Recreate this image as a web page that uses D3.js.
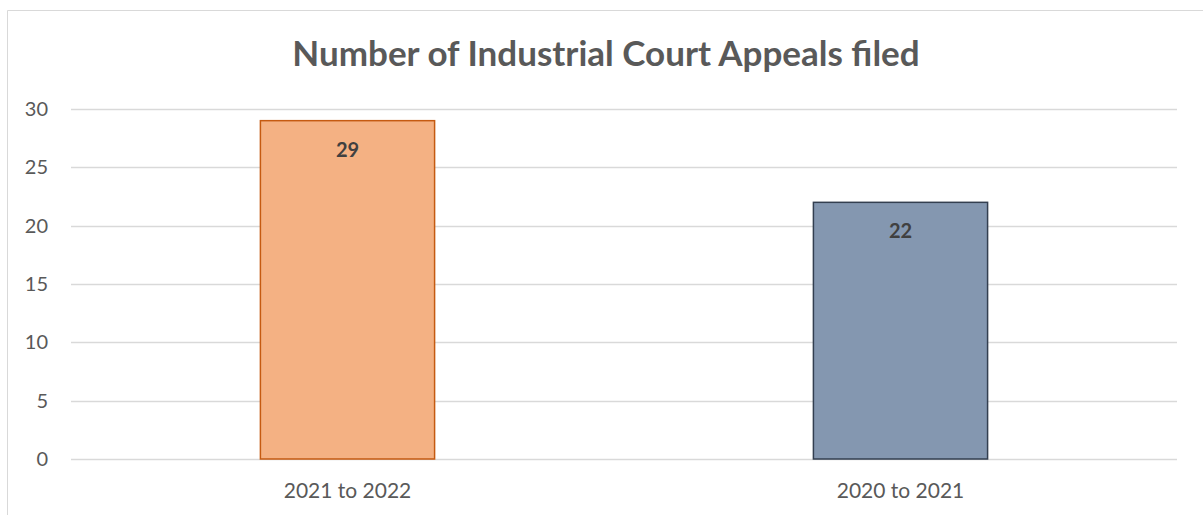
<!DOCTYPE html>
<html>
<head>
<meta charset="utf-8">
<script src="https://cdn.jsdelivr.net/npm/d3@7"></script>
<style>
  body { margin: 0; background: #fff; }
  svg { display: block; font-family: Lato, "Open Sans", sans-serif; }
</style>
</head>
<body>
<svg id="chart" width="1203" height="515"></svg>
<script>
// chart data
var title = "Number of Industrial Court Appeals filed";
var categories = ["2021 to 2022", "2020 to 2021"];
var values = [29, 22];
var fills = ["#F4B183", "#8497B0"];
var strokes = ["#C55A11", "#333F50"];
var yTicks = [0, 5, 10, 15, 20, 25, 30];

var svg = d3.select("#chart");
var margin = {left: 71, right: 26, top: 109, bottom: 56};
var width = 1203 - margin.left - margin.right;
var height = 515 - margin.top - margin.bottom;

// outer chart border (left + top only visible)
svg.append("path")
    .attr("d", "M7.5,515 L7.5,10.5 L1203,10.5")
    .attr("fill", "none")
    .attr("stroke", "#d9d9d9")
    .attr("stroke-width", 1);

svg.append("text")
    .attr("x", 606)
    .attr("y", 66)
    .attr("text-anchor", "middle")
    .attr("font-size", "35px")
    .attr("font-weight", "bold")
    .attr("fill", "#595959")
    .text(title);

var g = svg.append("g").attr("transform", "translate(" + margin.left + "," + margin.top + ")");

var x = d3.scaleBand()
    .domain(categories)
    .range([0, width])
    .paddingInner(0.685)
    .paddingOuter(0.3425);

var y = d3.scaleLinear()
    .domain([0, 30])
    .range([height, 0]);

// gridlines
g.selectAll("line.grid")
    .data(yTicks)
    .enter().append("line")
    .attr("class", "grid")
    .attr("x1", 0)
    .attr("x2", width)
    .attr("y1", function (d) { return Math.round(y(d)) + 0.5; })
    .attr("y2", function (d) { return Math.round(y(d)) + 0.5; })
    .attr("stroke", "#d9d9d9")
    .attr("stroke-width", 1.5);

// y axis labels
var yAxis = d3.axisLeft(y).tickValues(yTicks).tickSize(0).tickPadding(23);
g.append("g").call(yAxis)
    .call(function (a) { a.select(".domain").remove(); })
    .selectAll("text")
    .attr("font-size", "20px")
    .attr("font-family", "Lato, 'Open Sans', sans-serif")
    .attr("fill", "#595959");

// x axis labels
var xAxis = d3.axisBottom(x).tickSize(0).tickPadding(24);
g.append("g").attr("transform", "translate(0," + height + ")").call(xAxis)
    .call(function (a) { a.select(".domain").remove(); })
    .selectAll("text")
    .attr("font-size", "21px")
    .attr("font-family", "Lato, 'Open Sans', sans-serif")
    .attr("fill", "#595959");

// bars
g.selectAll("rect.bar")
    .data(values)
    .enter().append("rect")
    .attr("class", "bar")
    .attr("x", function (d, i) { return x(categories[i]); })
    .attr("y", function (d) { return y(d); })
    .attr("width", x.bandwidth())
    .attr("height", function (d) { return height - y(d); })
    .attr("fill", function (d, i) { return fills[i]; })
    .attr("stroke", function (d, i) { return strokes[i]; })
    .attr("stroke-width", 1.5);

// value labels
g.selectAll("text.val")
    .data(values)
    .enter().append("text")
    .attr("class", "val")
    .attr("x", function (d, i) { return x(categories[i]) + x.bandwidth() / 2; })
    .attr("y", function (d) { return y(d) + 36; })
    .attr("text-anchor", "middle")
    .attr("font-size", "20px")
    .attr("font-weight", "bold")
    .attr("fill", "#404040")
    .text(function (d) { return d; });
</script>
</body>
</html>
